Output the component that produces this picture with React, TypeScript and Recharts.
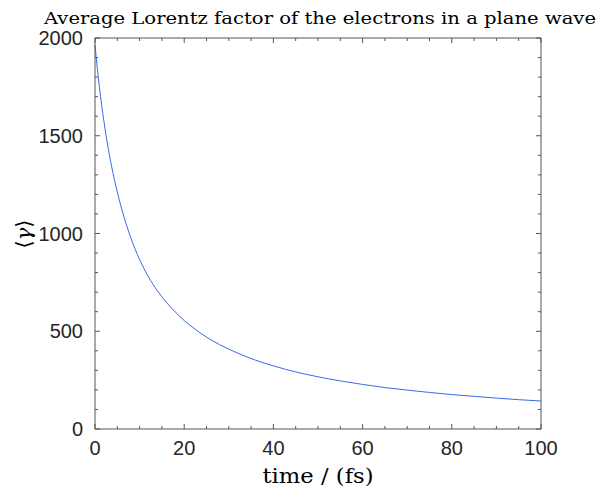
import { LineChart, Line, XAxis, YAxis } from 'recharts'

const times = [0, 0.5, 1, 1.5, 2, 3, 4, 5, 6, 7, 8, 9, 10, 12, 14, 16, 18, 20, 22, 25, 28, 32, 36, 40, 45, 50, 55, 60, 65, 70, 75, 80, 85, 90, 95, 100]
const gamma = [1964, 1849, 1747, 1656, 1574, 1431, 1313, 1212, 1124, 1047, 980, 920, 867, 778, 707, 648, 598, 555, 518, 470, 431, 388, 352, 323, 292, 267, 246, 228, 212, 199, 187, 176, 167, 158, 150, 143]

const xTicks = [0, 5, 10, 15, 20, 25, 30, 35, 40, 45, 50, 55, 60, 65, 70, 75, 80, 85, 90, 95, 100]
const yTicks = [0, 100, 200, 300, 400, 500, 600, 700, 800, 900, 1000, 1100, 1200, 1300, 1400, 1500, 1600, 1700, 1800, 1900, 2000]

const TOP = 38
const BOTTOM = 429
const LEFT = 95
const RIGHT = 541
const AXIS = '#555'
const TEXT = '#262626'
const SANS = '"Liberation Sans", Arial, sans-serif'
const SERIF = '"DejaVu Serif", "Liberation Serif", serif'

const data = times.map((t, i) => ({ t, g: gamma[i] }))

function BottomTick(props: any) {
  const x = props.payload.coordinate
  const v = props.payload.value
  const major = v % 20 === 0
  return (
    <g>
      <line x1={x} x2={x} y1={BOTTOM} y2={BOTTOM - (major ? 5 : 3)} stroke={AXIS} />
      {major && (
        <text x={x} y={BOTTOM + 26} textAnchor="middle" fontFamily={SANS} fontSize={20} fill={TEXT}>
          {v}
        </text>
      )}
    </g>
  )
}

function TopTick(props: any) {
  const x = props.payload.coordinate
  const major = props.payload.value % 20 === 0
  return <line x1={x} x2={x} y1={TOP} y2={TOP + (major ? 5 : 3)} stroke={AXIS} />
}

function LeftTick(props: any) {
  const y = props.payload.coordinate
  const v = props.payload.value
  const major = v % 500 === 0
  return (
    <g>
      <line x1={LEFT} x2={LEFT + (major ? 5 : 3)} y1={y} y2={y} stroke={AXIS} />
      {major && (
        <text x={LEFT - 12} y={y + 7} textAnchor="end" fontFamily={SANS} fontSize={20} fill={TEXT}>
          {v}
        </text>
      )}
    </g>
  )
}

function RightTick(props: any) {
  const y = props.payload.coordinate
  const major = props.payload.value % 500 === 0
  return <line x1={RIGHT} x2={RIGHT - (major ? 5 : 3)} y1={y} y2={y} stroke={AXIS} />
}

export default function App() {
  return (
    <div style={{ position: 'relative', width: 597, height: 489, background: '#fff' }}>
      <style>{`body { margin: 0; }`}</style>
      <LineChart width={597} height={489} data={data} margin={{ top: TOP - 1, right: 597 - RIGHT - 1, bottom: 0, left: 0 }}>
        <XAxis
          xAxisId="bottom"
          dataKey="t"
          type="number"
          domain={[0, 100]}
          ticks={xTicks}
          interval={0}
          height={489 - BOTTOM}
          tickLine={false}
          stroke={AXIS}
          tick={<BottomTick />}
        />
        <XAxis
          xAxisId="top"
          orientation="top"
          dataKey="t"
          type="number"
          domain={[0, 100]}
          ticks={xTicks}
          interval={0}
          height={1}
          tickLine={false}
          stroke={AXIS}
          tick={<TopTick />}
        />
        <YAxis
          yAxisId="left"
          type="number"
          domain={[0, 2000]}
          ticks={yTicks}
          interval={0}
          width={LEFT}
          tickLine={false}
          stroke={AXIS}
          tick={<LeftTick />}
        />
        <YAxis
          yAxisId="right"
          orientation="right"
          type="number"
          domain={[0, 2000]}
          ticks={yTicks}
          interval={0}
          width={1}
          tickLine={false}
          stroke={AXIS}
          tick={<RightTick />}
        />
        {/* invisible twin so the top and right box axes get drawn */}
        <Line
          xAxisId="top"
          yAxisId="right"
          dataKey="g"
          stroke="none"
          dot={false}
          activeDot={false}
          isAnimationActive={false}
        />
        <Line
          xAxisId="bottom"
          yAxisId="left"
          type="monotone"
          dataKey="g"
          stroke="#3a6ae8"
          strokeWidth={1}
          dot={false}
          isAnimationActive={false}
        />
        <text x={320} y={24} textAnchor="middle" fontFamily={SERIF} fontSize={17} fill="#000" textLength={552} lengthAdjust="spacingAndGlyphs">
          Average Lorentz factor of the electrons in a plane wave
        </text>
        <text x={318} y={483} textAnchor="middle" fontFamily={SERIF} fontSize={20} fill="#000" textLength={111} lengthAdjust="spacingAndGlyphs">
          time / (fs)
        </text>
        <text
          x={0}
          y={0}
          transform="translate(31 234) rotate(-90)"
          textAnchor="middle"
          fontFamily={SERIF}
          fontSize={21}
          fill="#000"
        >
          ⟨<tspan fontStyle="italic">γ</tspan>⟩
        </text>
      </LineChart>
    </div>
  )
}
